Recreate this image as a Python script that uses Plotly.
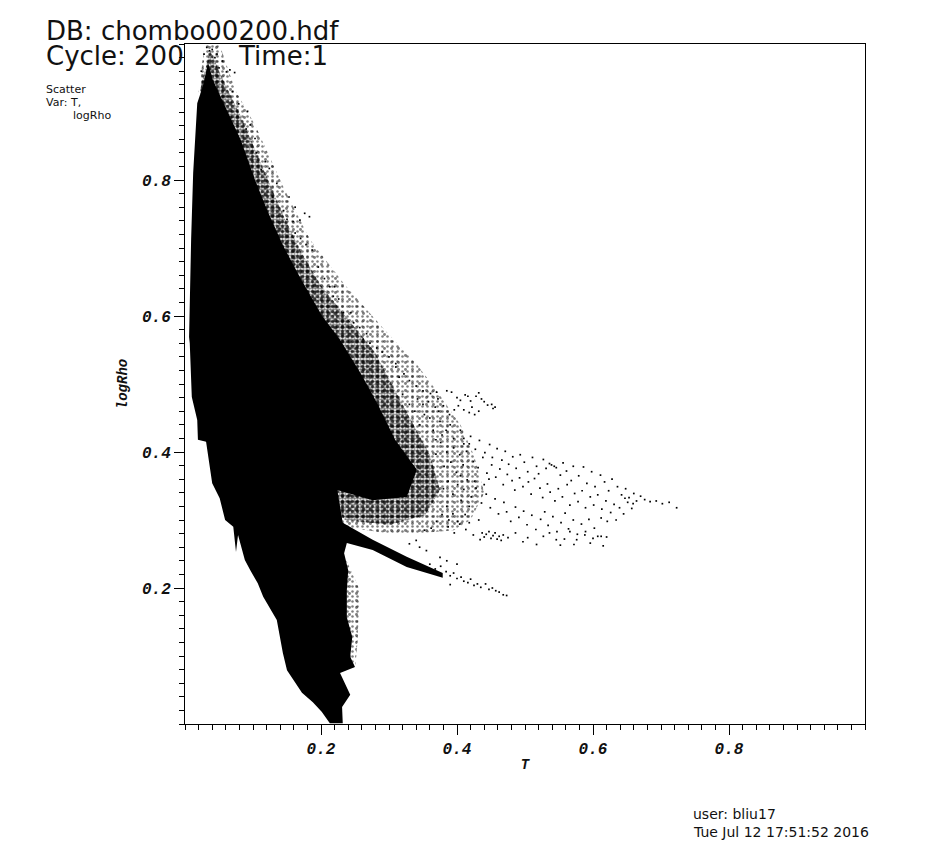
import plotly.graph_objects as go

# Solid core of the cloud (T, logRho)
core_T = [.034,.026,.018,.015,.012,.009,.006,.007,.009,.010,.018,.019,.031,.034,.040,.051,.059,.071,.075,.078,.088,.096,.107,.115,.135,.144,.150,.172,.188,.201,.213,.232,.231,.243,.235,.228,.250,.243,.246,.238,.238,.240,.234,.238,.276,.326,.379,.379,.326,.276,.232,.224,.276,.326,.341,.309,.284,.260,.228,.201,.169,.144,.122,.103,.082,.062,.041]
core_R = [.972,.937,.913,.869,.810,.712,.569,.560,.516,.481,.447,.418,.415,.393,.354,.332,.300,.290,.253,.278,.241,.226,.207,.187,.153,.104,.079,.046,.032,.018,.001,.001,.025,.043,.060,.075,.084,.099,.128,.157,.197,.226,.251,.266,.256,.231,.215,.222,.246,.271,.296,.344,.329,.334,.374,.418,.469,.513,.565,.601,.657,.704,.753,.800,.859,.903,.947]

# Densely speckled halo outline
dense_T = [.037,.059,.081,.103,.125,.144,.169,.199,.235,.279,.324,.360,.375,.353,.301,.235,.100,.022]
dense_R = [.991,.940,.896,.844,.793,.749,.697,.646,.601,.547,.462,.396,.344,.307,.293,.300,.500,.932]

# Thinly speckled halo outline
thin_T = [.029,.051,.074,.103,.147,.184,.235,.294,.340,.370,.405,.425,.440,.420,.395,.316,.232,.100,.020]
thin_R = [.999,.999,.932,.881,.785,.712,.646,.579,.530,.490,.440,.395,.340,.300,.285,.278,.290,.500,.930]

# Speckle on the right of the lower stem
stem_T = [.237,.257,.254,.250,.235]
stem_R = [.241,.197,.124,.081,.081]

# Individual points
upper_edge = [(.061,.959),(.073,.958),(.066,.962),(.055,.975),(.047,.985),(.092,.901),(.096,.881),(.103,.861),(.118,.827),(.124,.817),(.135,.795),(.153,.775),(.162,.760),(.176,.751),(.183,.746),(.169,.741),(.159,.739),(.17,.714),(.187,.697),(.196,.672),(.213,.643),(.22,.643),(.218,.629),(.233,.605),(.257,.583),(.267,.574),(.145,.755),(.15,.742),(.162,.722),(.178,.705),(.129,.775),(.112,.815),(.105,.84),(.09,.875),(.079,.912),(.07,.93),(.205,.655),(.226,.625),(.244,.605),(.248,.59),(.262,.566),(.282,.553),(.3,.54),(.31,.53),(.272,.56),(.29,.547),(.032,.995),(.04,.992),(.044,.98),(.028,.985),(.024,.96),(.036,.99),(.05,.965)]

upper_branch = [(.34,.497),(.35,.49),(.361,.486),(.37,.488),(.372,.478),(.385,.49),(.392,.488),(.4,.48),(.405,.476),(.412,.484),(.416,.482),(.42,.475),(.428,.482),(.432,.487),(.436,.478),(.44,.474),(.445,.469),(.451,.47),(.456,.466),(.453,.464),(.41,.462),(.418,.458),(.422,.466),(.426,.455),(.396,.462),(.38,.468),(.368,.466),(.358,.474),(.35,.47),(.342,.478),(.33,.505),(.322,.515),(.31,.525),(.315,.51),(.36,.45),(.375,.445),(.39,.44),(.405,.432),(.352,.455),(.338,.46),(.345,.44),(.365,.432),(.378,.425),(.395,.42),(.41,.412),(.33,.47),(.32,.485),(.402,.468),(.389,.455),(.373,.46),(.432,.46),(.384,.432),(.369,.418)]

tail_high = [(.418,.412),(.427,.404),(.433,.417),(.441,.399),(.448,.411),(.452,.392),(.459,.405),(.466,.388),(.471,.401),(.476,.382),(.482,.393),(.487,.376),(.493,.396),(.499,.385),(.504,.371),(.511,.392),(.517,.379),(.52,.368),(.527,.389),(.531,.376),(.536,.383),(.539,.381),(.543,.379),(.546,.377),(.552,.366),(.556,.384),(.561,.372),(.568,.358),(.571,.379),(.579,.365),(.586,.378),(.591,.354),(.598,.371),(.603,.349),(.611,.366),(.617,.356),(.623,.343),(.628,.36),(.636,.349),(.642,.337),(.648,.346),(.653,.333),(.66,.339),(.664,.328),(.67,.335),(.676,.33),(.684,.327),(.693,.328),(.702,.324),(.712,.326),(.723,.318)]

tail_mid = [(.424,.386),(.431,.377),(.438,.392),(.444,.369),(.451,.381),(.457,.363),(.463,.375),(.468,.352),(.474,.367),(.481,.358),(.485,.344),(.492,.362),(.497,.349),(.505,.356),(.509,.338),(.514,.361),(.522,.347),(.526,.333),(.533,.353),(.537,.341),(.544,.328),(.549,.346),(.555,.334),(.562,.352),(.566,.322),(.573,.339),(.578,.327),(.584,.343),(.589,.318),(.596,.334),(.601,.322),(.607,.337),(.613,.316),(.619,.328),(.626,.311),(.631,.323),(.639,.318),(.645,.309),(.651,.326),(.657,.317),(.634,.3),(.621,.298),(.612,.303),(.659,.324),(.647,.332)]

tail_low = [(.421,.334),(.428,.347),(.436,.325),(.443,.338),(.449,.318),(.456,.331),(.461,.309),(.469,.326),(.473,.312),(.479,.298),(.486,.319),(.491,.304),(.498,.313),(.503,.293),(.51,.307),(.516,.286),(.523,.301),(.529,.312),(.534,.292),(.541,.305),(.547,.283),(.553,.296),(.559,.31),(.564,.287),(.571,.3),(.577,.279),(.583,.294),(.589,.283),(.594,.301),(.602,.288),(.607,.276),
(.517,.264),(.527,.276),(.536,.281),(.546,.271),(.558,.272),(.566,.283),(.576,.271),(.588,.278),(.6,.273),(.612,.276),(.62,.275),(.615,.262),(.596,.266),(.572,.264),(.552,.263),
(.434,.271),(.437,.281),(.44,.275),(.443,.279),(.447,.283),(.45,.273),(.453,.277),(.456,.281),(.459,.272),(.462,.276),(.465,.27),(.468,.278),(.475,.274),(.486,.281),(.497,.268),(.504,.274),(.413,.286),(.404,.294),(.396,.281),(.387,.29),(.424,.278),(.418,.296)]

tail_inner = [(.38,.346),(.387,.357),(.394,.338),(.401,.352),(.406,.329),(.385,.32),(.394,.309),(.401,.298),(.41,.345),(.415,.359),(.409,.381),(.399,.37),(.391,.385),(.404,.396),(.395,.406),(.414,.401),(.385,.4),(.376,.414),(.369,.397),(.381,.379),(.418,.32),(.412,.308),(.426,.357),(.405,.365),(.378,.308),(.37,.298),(.362,.288),(.352,.285),(.388,.3),(.44,.352),(.432,.3),(.447,.36),(.42,.423),(.41,.42)]

spur_tip = [(.36,.235),(.368,.228),(.376,.232),(.384,.224),(.39,.218),(.395,.222),(.4,.214),(.406,.216),(.41,.21),(.416,.208),(.42,.213),(.425,.204),(.43,.206),(.435,.201),(.442,.206),(.447,.198),(.452,.2),(.457,.196),(.462,.194),(.468,.19),(.473,.189),(.39,.205),(.4,.235),(.385,.24),(.375,.245),(.345,.26),(.355,.255),(.33,.265),(.34,.27)]

major_ticks = [0.2, 0.4, 0.6, 0.8]
major_labels = ["0.2", "0.4", "0.6", "0.8"]

title_lines = ["DB: chombo00200.hdf", "Cycle: 200", "Time:1"]
legend_lines = ["Scatter", "Var: T,", "logRho"]
footer_lines = ["user: bliu17", "Tue Jul 12 17:51:52 2016"]

CLEAR = "rgba(0,0,0,0)"

def poly(xs, ys, size=None, solidity=None):
    if size is None:
        return go.Scatter(x=xs + xs[:1], y=ys + ys[:1], mode="lines", fill="toself",
                          fillcolor="#000", line=dict(width=0), hoverinfo="skip", showlegend=False)
    return go.Scatter(x=xs + xs[:1], y=ys + ys[:1], mode="lines", fill="toself", fillcolor=CLEAR,
                      fillpattern=dict(shape=".", size=size, solidity=solidity, fgcolor="#000",
                                       bgcolor=CLEAR, fillmode="overlay"),
                      line=dict(width=0), hoverinfo="skip", showlegend=False)

pts = upper_edge + upper_branch + tail_high + tail_mid + tail_low + tail_inner + spur_tip
fig = go.Figure()
for size, solidity in [(5, 0.2), (7, 0.14)]:
    fig.add_trace(poly(thin_T, thin_R, size, solidity))
    fig.add_trace(poly(stem_T, stem_R, size, solidity))
for size, solidity in [(3, 0.6), (5, 0.35), (7, 0.3)]:
    fig.add_trace(poly(dense_T, dense_R, size, solidity))
fig.add_trace(poly(core_T, core_R))
fig.add_trace(go.Scatter(x=[p[0] for p in pts], y=[p[1] for p in pts], mode="markers",
                         marker=dict(symbol="square", size=1.7, color="#000", line=dict(width=0)),
                         showlegend=False))

tickfont = dict(family="Liberation Mono", size=16, color="#111", style="italic", weight="bold")
titlefont = dict(family="Liberation Mono", size=14, color="#111", style="italic", weight="bold")
axis = dict(range=[0, 1], showgrid=False, zeroline=False, showline=True, linecolor="#000", linewidth=1,
            mirror=True, ticks="outside", ticklen=10, tickwidth=1, tickcolor="#000",
            tickvals=major_ticks, ticktext=major_labels, tickfont=tickfont,
            minor=dict(dtick=0.02, tick0=0, ticks="outside", ticklen=5, tickwidth=1, tickcolor="#000", showgrid=False))
# the page adds an 8 px body margin, so the figure is 8 px smaller on each leading side
fig.update_layout(width=917, height=845, autosize=False, paper_bgcolor="#fff", plot_bgcolor="#fff",
                  margin=dict(l=177, r=60, t=36, b=129), showlegend=False,
                  xaxis=dict(axis, title=dict(text="T", font=titlefont, standoff=0)),
                  yaxis=dict(axis, title=dict(text="logRho", font=titlefont, standoff=11)))

def label(text, x, y, size):
    fig.add_annotation(text=text, xref="paper", yref="paper", x=(x - 185) / 680, y=(724 - y) / 680,
                       xanchor="left", yanchor="bottom", showarrow=False, align="left",
                       font=dict(family="DejaVu Sans", size=size, color="#111"),
                       borderpad=0, borderwidth=0)

label(title_lines[0], 46, 46, 26)
label(title_lines[1], 46, 71, 26)
label(title_lines[2], 238, 71, 26)
label(legend_lines[0], 46, 96, 11)
label(legend_lines[1], 46, 109, 11)
label(legend_lines[2], 73, 122, 11)
label(footer_lines[0], 693, 822, 14)
label(footer_lines[1], 693, 840, 14)

fig.write_html("out.html")
